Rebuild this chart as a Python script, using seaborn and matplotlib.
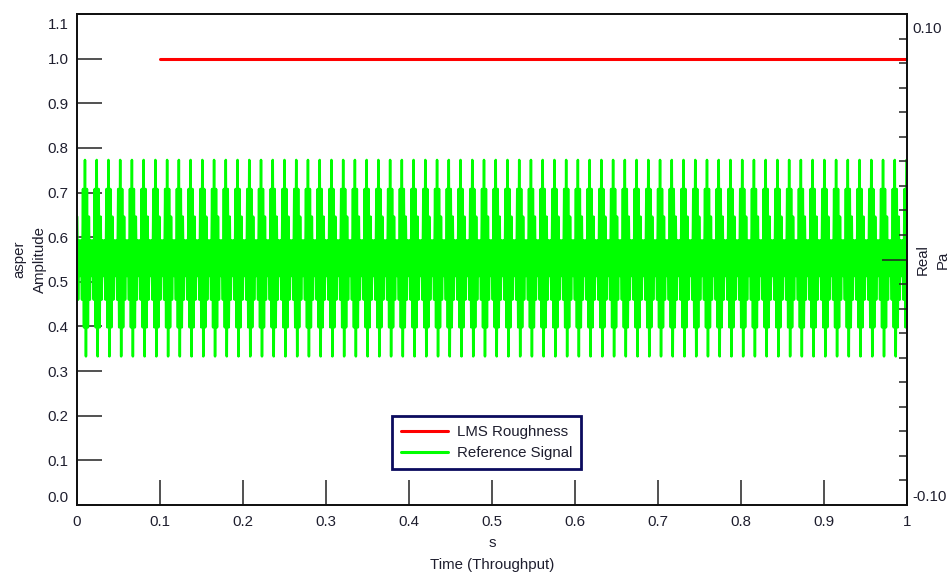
import numpy as np
import pandas as pd
import matplotlib
matplotlib.use("Agg")
import matplotlib.pyplot as plt
import matplotlib.transforms as mtransforms
from matplotlib.ticker import MultipleLocator
import seaborn as sns

# ---- data ----
roughness_t = [0.1, 1.0]
roughness = [1.0, 1.0]

# one beat ("tooth") of the reference signal, samples alternate high / low
tooth = [0.593, 0.513, 0.593, 0.460, 0.708, 0.398,
         0.773, 0.333, 0.708, 0.398, 0.646, 0.460]
tooth_period = 0.01414   # s, spacing of the tall strokes
first_peak = 0.0096      # s, first full stroke inside the plot
n_teeth = 73

x_ticks = [0, 0.1, 0.2, 0.3, 0.4, 0.5, 0.6, 0.7, 0.8, 0.9, 1]
x_labels = ["0", "0.1", "0.2", "0.3", "0.4", "0.5", "0.6", "0.7", "0.8", "0.9", "1"]
y_ticks = [0.0, 0.1, 0.2, 0.3, 0.4, 0.5, 0.6, 0.7, 0.8, 0.9, 1.0, 1.1]

# ---- build the reference signal table ----
dt = tooth_period / len(tooth)
values = np.tile(tooth, n_teeth)
t = first_peak - tooth_period - 6 * dt + np.arange(len(values)) * dt
ref = pd.DataFrame({"t": t, "v": values})
ref = ref[(ref.t >= 0) & (ref.t <= 1)]
rough = pd.DataFrame({"t": roughness_t, "v": roughness})

sns.set_theme(style="ticks")
plt.rcParams["font.family"] = ["Liberation Sans", "DejaVu Sans"]
plt.rcParams["path.simplify"] = False
FS = 10.8
TXT = "#1e1e2e"

fig = plt.figure(figsize=(9.52, 5.73), dpi=100)
ax = fig.add_axes([77 / 952, 1 - 505 / 573, 830 / 952, 491 / 573])

sns.lineplot(data=rough, x="t", y="v", ax=ax, color="#ff0000", linewidth=2.2,
             label="LMS Roughness", estimator=None, sort=False)
sns.lineplot(data=ref, x="t", y="v", ax=ax, color="#00ff00", linewidth=1.8,
             label="Reference Signal", estimator=None, sort=False)

ax.set_xlim(0, 1)
ax.set_ylim(0, 1.1)
ax.set_xticks(x_ticks)
ax.set_xticklabels(x_labels)
ax.set_yticks(y_ticks)
ax.set_yticklabels([f"{v:.1f}" for v in y_ticks])
ax.tick_params(axis="both", direction="in", length=18, width=1.1, color="#222222",
               labelsize=FS, labelcolor=TXT)
ax.tick_params(axis="x", pad=7)
ax.tick_params(axis="y", pad=6)
# end labels sit inside the axis range
ylab = ax.get_yticklabels()
ylab[0].set_va("bottom")
ylab[-1].set_va("top")
ylab[-1].set_transform(ylab[-1].get_transform() +
                       mtransforms.ScaledTranslation(0, -4 / 100, fig.dpi_scale_trans))

ax.set_xlabel("s\nTime (Throughput)", fontsize=FS, linespacing=1.75, color=TXT)
ax.set_ylabel("asper\nAmplitude", fontsize=FS, linespacing=1.55, color=TXT)
ax.xaxis.labelpad = 5
ax.yaxis.labelpad = 0.5

for s in ax.spines.values():
    s.set_linewidth(1.3)
    s.set_color("#111111")

# ---- right axis ----
ax2 = ax.twinx()
ax2.set_ylim(-0.1, 0.1)
ax2.set_yticks([0])
ax2.set_yticklabels([""])
ax2.yaxis.set_minor_locator(MultipleLocator(0.01))
ax2.tick_params(axis="y", which="major", direction="in", length=18, width=1.1, color="#222222")
ax2.tick_params(axis="y", which="minor", direction="in", length=6, width=1.1, color="#222222")
ax2.text(1.006, 0.984, "0.10", transform=ax2.transAxes, ha="left", va="top",
         fontsize=FS, color=TXT)
ax2.text(1.006, 0.002, "-0.10", transform=ax2.transAxes, ha="left", va="bottom",
         fontsize=FS, color=TXT)
ax2.set_ylabel("Real\nPa", rotation=90, fontsize=FS, linespacing=1.5, color=TXT)
ax2.yaxis.labelpad = 3
for s in ax2.spines.values():
    s.set_linewidth(1.3)
    s.set_color("#111111")

# ---- legend ----
leg = ax.legend(loc="upper left", bbox_to_anchor=(0.3795, 0.181), borderaxespad=0,
                fontsize=FS, handlelength=3.1, handletextpad=0.6, labelspacing=0.45,
                borderpad=0.62, fancybox=False, framealpha=1)
leg.get_frame().set_edgecolor("#0b0b5e")
leg.get_frame().set_linewidth(2)
for h in leg.get_lines():
    h.set_linewidth(2.2)
for txt in leg.get_texts():
    txt.set_color(TXT)

fig.savefig("out.png", dpi=100)
